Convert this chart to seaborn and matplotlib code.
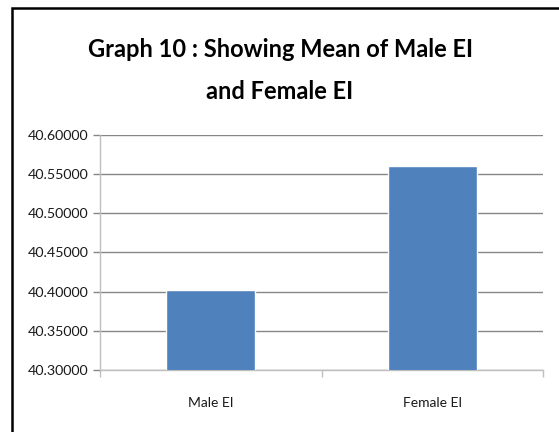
import matplotlib
matplotlib.use("Agg")
import matplotlib.pyplot as plt
from matplotlib.patches import Rectangle
from matplotlib.ticker import MultipleLocator, FormatStrFormatter
import seaborn as sns
import pandas as pd

# Mean emotional-intelligence scores by group
groups = ["Male EI", "Female EI"]
means = [40.402, 40.560]

title_text = "Graph 10 : Showing Mean of Male EI\nand Female EI"

sns.set_theme(style="white")
plt.rcParams["font.family"] = ["Lato", "DejaVu Sans"]

df = pd.DataFrame({"group": groups, "mean": means})

fig = plt.figure(figsize=(5.59, 4.32), dpi=100)
ax = fig.add_axes([100 / 559, 1 - 370 / 432, 443 / 559, 235 / 432])

sns.barplot(data=df, x="group", y="mean", color="#4F81BD", saturation=1,
            width=0.4, ax=ax, zorder=3)

grid_c = "#868686"
ax.set_ylim(40.30, 40.60)
ax.set_xlim(-0.5, 1.5)
ax.yaxis.set_major_locator(MultipleLocator(0.05))
ax.yaxis.set_major_formatter(FormatStrFormatter("%.5f"))
ax.grid(axis="y", color=grid_c, linewidth=1.0, zorder=0)
ax.set_axisbelow(True)

for side in ("top", "right"):
    ax.spines[side].set_visible(False)
for side in ("left", "bottom"):
    ax.spines[side].set_color("#BFBFBF")
    ax.spines[side].set_linewidth(1.0)

ax.set_xlabel("")
ax.set_ylabel("")

# Category-boundary tick marks on the x axis, labels centred between them
ax.set_xticks([-0.5, 0.5, 1.5])
ax.set_xticklabels([])
ax.set_xticks([0, 1], minor=True)
ax.set_xticklabels(groups, minor=True)
ax.tick_params(axis="x", which="major", length=5, width=1, color="#BFBFBF",
               direction="out", bottom=True)
ax.tick_params(axis="x", which="minor", length=0, pad=19.5, labelsize=10,
               labelcolor="#1a1a1a")
ax.tick_params(axis="y", length=5, width=1, color=grid_c, direction="out",
               left=True, pad=3.5, labelsize=10.3, labelcolor="#1a1a1a")

fig.text(280 / 559, 1 - 70.5 / 432, title_text, ha="center", va="center",
         fontsize=17, fontweight="bold", linespacing=2.0, color="black")

# Chart frame
fig.patches.append(Rectangle((12 / 559, -0.1), 1.2, (1 - 8 / 432) + 0.1,
                             transform=fig.transFigure, fill=False,
                             edgecolor="black", linewidth=1.8))

fig.savefig("out.png", dpi=100, facecolor="white")
